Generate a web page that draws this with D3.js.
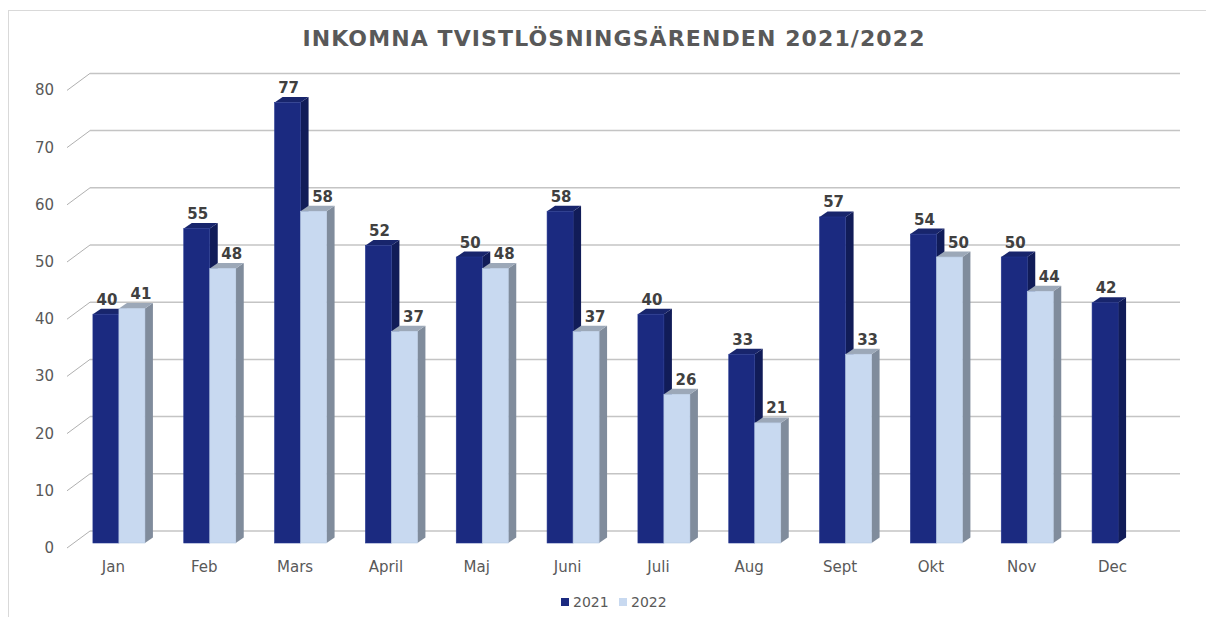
<!DOCTYPE html>
<html>
<head>
<meta charset="utf-8">
<script src="https://cdn.jsdelivr.net/npm/d3@7"></script>
<style>
  body { margin: 0; background: #fff; }
  text { font-family: "DejaVu Sans", Verdana, sans-serif; }
</style>
</head>
<body>
<div id="chart"></div>
<script>
// data
var months = ['Jan', 'Feb', 'Mars', 'April', 'Maj', 'Juni', 'Juli', 'Aug', 'Sept', 'Okt', 'Nov', 'Dec'];
var values2021 = [40, 55, 77, 52, 50, 58, 40, 33, 57, 54, 50, 42];
var values2022 = [41, 48, 58, 37, 48, 37, 26, 21, 33, 50, 44, null];
var yTicks = [0, 10, 20, 30, 40, 50, 60, 70, 80];
var seriesNames = ['2021', '2022'];

var svgWidth = 1206, svgHeight = 617;

// 3d look: wall offset and bar depth
var wall = {dx: 23, dy: -12},
    depth = {dx: 8, dy: -5.5},
    barWidth = 26;

var colors = {
  '2021': {front: '#1b2a80', side: '#111c58', top: '#18256c'},
  '2022': {front: '#c8d9f0', side: '#808c9c', top: '#9ca8b8'}
};

var svg = d3.select('#chart').append('svg')
    .attr('width', svgWidth)
    .attr('height', svgHeight);

// outer frame
svg.append('rect')
    .attr('x', 8.5).attr('y', 10.5)
    .attr('width', 1220).attr('height', 640)
    .attr('fill', 'none')
    .attr('stroke', '#d9d9d9');

// title
svg.append('text')
    .attr('x', 614).attr('y', 46)
    .attr('text-anchor', 'middle')
    .attr('font-size', '22px')
    .attr('font-weight', 'bold')
    .attr('letter-spacing', '1.1px')
    .attr('fill', '#595959')
    .text('INKOMNA TVISTLÖSNINGSÄRENDEN 2021/2022');

// scales
var x = d3.scaleBand()
    .domain(months)
    .range([68, 1158]);

var y = d3.scaleLinear()
    .domain([0, 80])
    .range([543, 85.4]);

// back wall gridlines
var grid = svg.append('g').classed('grid', true);
grid.selectAll('line.h')
    .data(yTicks)
    .enter()
    .append('line')
    .classed('h', true)
    .attr('x1', 90).attr('x2', 1180)
    .attr('y1', d => y(d) + wall.dy)
    .attr('y2', d => y(d) + wall.dy)
    .attr('stroke', '#c4c4c4')
    .attr('stroke-width', 1.5);

// side wall diagonals
grid.selectAll('line.d')
    .data(yTicks)
    .enter()
    .append('line')
    .classed('d', true)
    .attr('x1', 67).attr('x2', 90)
    .attr('y1', d => y(d) + 5)
    .attr('y2', d => y(d) + wall.dy)
    .attr('stroke', '#b0b0b0')
    .attr('stroke-width', 1);

// y axis labels
svg.append('g').selectAll('text')
    .data(yTicks)
    .enter()
    .append('text')
    .attr('x', 54)
    .attr('y', d => y(d) + 10)
    .attr('text-anchor', 'end')
    .attr('font-size', '15px')
    .attr('fill', '#595959')
    .text(d => d);

// category labels
svg.append('g').selectAll('text')
    .data(months)
    .enter()
    .append('text')
    .attr('x', d => x(d) + x.bandwidth() / 2)
    .attr('y', 572)
    .attr('text-anchor', 'middle')
    .attr('font-size', '15px')
    .attr('fill', '#595959')
    .text(d => d);

// build bar records
var bars = [];
months.forEach(function(m, i) {
  [values2021[i], values2022[i]].forEach(function(v, s) {
    if (v === null) return;
    var x0 = x(m) + x.bandwidth() / 2 - 20.5 + s * barWidth;
    bars.push({month: m, series: seriesNames[s], value: v, x0: x0});
  });
});

// draw bars: 2021 first, so 2022 covers its side
var barGroup = svg.append('g').classed('bars', true);
seriesNames.forEach(function(name) {
  var g = barGroup.append('g');
  var data = bars.filter(d => d.series === name);
  var y0 = y(0);

  // side face
  g.selectAll('path.side')
      .data(data)
      .enter()
      .append('path')
      .attr('d', function(d) {
        var x1 = d.x0 + barWidth, yt = y(d.value);
        return 'M' + x1 + ',' + yt + 'L' + (x1 + depth.dx) + ',' + (yt + depth.dy) +
               'L' + (x1 + depth.dx) + ',' + (y0 + depth.dy) + 'L' + x1 + ',' + y0 + 'Z';
      })
      .attr('fill', colors[name].side);

  // top face
  g.selectAll('path.top')
      .data(data)
      .enter()
      .append('path')
      .attr('d', function(d) {
        var yt = y(d.value);
        return 'M' + d.x0 + ',' + yt + 'L' + (d.x0 + depth.dx) + ',' + (yt + depth.dy) +
               'L' + (d.x0 + barWidth + depth.dx) + ',' + (yt + depth.dy) +
               'L' + (d.x0 + barWidth) + ',' + yt + 'Z';
      })
      .attr('fill', colors[name].top);

  // front face
  g.selectAll('rect')
      .data(data)
      .enter()
      .append('rect')
      .attr('x', d => d.x0)
      .attr('y', d => y(d.value))
      .attr('width', barWidth)
      .attr('height', d => y0 - y(d.value))
      .attr('fill', colors[name].front)
      .attr('stroke', name === '2021' ? '#24368f' : '#b6c8e2')
      .attr('stroke-width', 0.6);
});

// value labels
svg.append('g').selectAll('text')
    .data(bars)
    .enter()
    .append('text')
    .attr('x', d => d.x0 + barWidth / 2 + (d.series === '2021' ? 1 : 9))
    .attr('y', d => y(d.value) - 9.5)
    .attr('text-anchor', 'middle')
    .attr('font-size', '15px')
    .attr('font-weight', 'bold')
    .attr('fill', '#404040')
    .text(d => d.value);

// legend
var legend = svg.append('g').attr('transform', 'translate(561, 598)');
var legendItems = legend.selectAll('g')
    .data(seriesNames)
    .enter()
    .append('g')
    .attr('transform', (d, i) => `translate(${i * 58}, 0)`);
legendItems.append('rect')
    .attr('width', 8).attr('height', 8)
    .attr('fill', d => colors[d].front);
legendItems.append('text')
    .attr('x', 12).attr('y', 9)
    .attr('font-size', '14px')
    .attr('fill', '#595959')
    .text(d => d);
</script>
</body>
</html>
